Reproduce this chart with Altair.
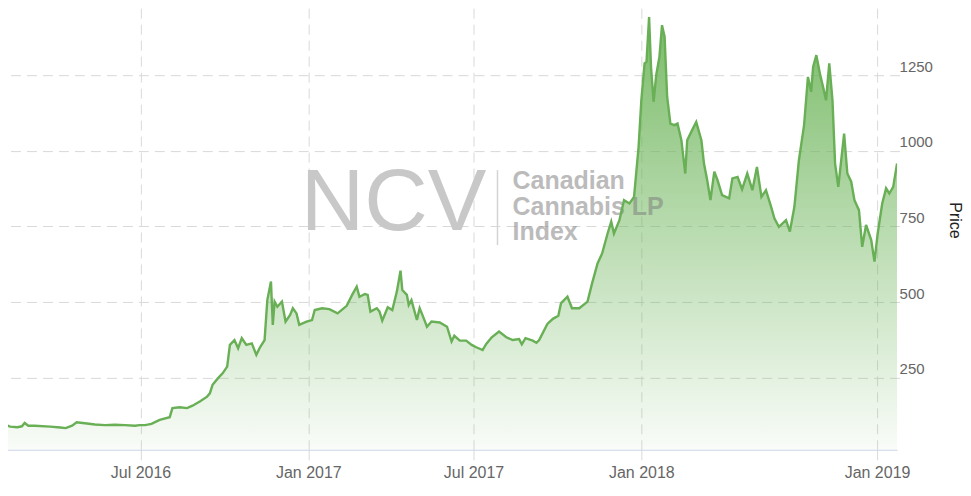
import altair as alt
import pandas as pd

dates = [
    "2016-02-04", "2016-02-09", "2016-02-17", "2016-02-22", "2016-02-25", "2016-02-29",
    "2016-03-07", "2016-03-24", "2016-04-04", "2016-04-10", "2016-04-17", "2016-04-22",
    "2016-05-01", "2016-05-12", "2016-05-23", "2016-06-03", "2016-06-14", "2016-06-25",
    "2016-06-30", "2016-07-06", "2016-07-13", "2016-07-22", "2016-08-02", "2016-08-05",
    "2016-08-13", "2016-08-21", "2016-08-27", "2016-09-04", "2016-09-12", "2016-09-15",
    "2016-09-18", "2016-09-24", "2016-09-29", "2016-10-04", "2016-10-07", "2016-10-12",
    "2016-10-16", "2016-10-20", "2016-10-25", "2016-10-31", "2016-11-05", "2016-11-09",
    "2016-11-14", "2016-11-17", "2016-11-21", "2016-11-23", "2016-11-25", "2016-11-28",
    "2016-12-03", "2016-12-07", "2016-12-12", "2016-12-15", "2016-12-19", "2016-12-22",
    "2016-12-30", "2017-01-05", "2017-01-08", "2017-01-16", "2017-01-24", "2017-02-02",
    "2017-02-12", "2017-02-18", "2017-02-23", "2017-02-26", "2017-03-04", "2017-03-07",
    "2017-03-10", "2017-03-17", "2017-03-20", "2017-03-23", "2017-03-29", "2017-04-03",
    "2017-04-08", "2017-04-12", "2017-04-14", "2017-04-19", "2017-04-21", "2017-04-24",
    "2017-04-30", "2017-05-03", "2017-05-06", "2017-05-11", "2017-05-16", "2017-05-25",
    "2017-06-02", "2017-06-07", "2017-06-10", "2017-06-16", "2017-06-23", "2017-06-29",
    "2017-07-04", "2017-07-11", "2017-07-15", "2017-07-21", "2017-07-29", "2017-08-06",
    "2017-08-13", "2017-08-20", "2017-08-23", "2017-08-27", "2017-09-04", "2017-09-08",
    "2017-09-11", "2017-09-20", "2017-09-26", "2017-10-02", "2017-10-05", "2017-10-12",
    "2017-10-17", "2017-10-25", "2017-11-03", "2017-11-08", "2017-11-14", "2017-11-19",
    "2017-11-25", "2017-11-29", "2017-12-02", "2017-12-08", "2017-12-13", "2017-12-19",
    "2017-12-24", "2017-12-29", "2018-01-01", "2018-01-06", "2018-01-09", "2018-01-13",
    "2018-01-16", "2018-01-20", "2018-01-24", "2018-01-29", "2018-02-02", "2018-02-06",
    "2018-02-10", "2018-02-15", "2018-02-21", "2018-02-26", "2018-03-04", "2018-03-10",
    "2018-03-13", "2018-03-21", "2018-03-27", "2018-04-04", "2018-04-08", "2018-04-13",
    "2018-04-18", "2018-04-24", "2018-04-29", "2018-05-06", "2018-05-17", "2018-05-22",
    "2018-05-30", "2018-06-06", "2018-06-14", "2018-06-22", "2018-06-29", "2018-07-06",
    "2018-07-13", "2018-07-21", "2018-07-26", "2018-08-02", "2018-08-13", "2018-08-19",
    "2018-08-26", "2018-09-02", "2018-09-10", "2018-09-16", "2018-09-21", "2018-09-24",
    "2018-09-29", "2018-10-05", "2018-10-10", "2018-10-14", "2018-10-19", "2018-10-24",
    "2018-10-28", "2018-11-02", "2018-11-11", "2018-11-16", "2018-11-22", "2018-11-27",
    "2018-12-04", "2018-12-09", "2018-12-15", "2018-12-23", "2018-12-28", "2019-01-02",
    "2019-01-09", "2019-01-15", "2019-01-20", "2019-01-26", "2019-02-01",
]

prices = [
    95, 89, 87, 90, 101, 92,
    92, 89, 86, 84, 92, 103,
    100, 96, 94, 95, 94, 92,
    94, 94, 98, 111, 120, 150,
    153, 150, 158, 172, 188, 199,
    227, 249, 265, 287, 359, 375,
    348, 381, 359, 364, 326, 351,
    375, 507, 568, 425, 502, 485,
    502, 436, 458, 480, 463, 425,
    436, 441, 474, 480, 477, 463,
    488, 524, 551, 518, 527, 524,
    469, 480, 469, 439, 483, 474,
    535, 604, 540, 524, 491, 507,
    441, 480, 458, 419, 436, 433,
    419, 370, 389, 373, 373, 359,
    351, 342, 362, 384, 403, 384,
    375, 378, 361, 381, 373, 366,
    375, 428, 445, 455, 497, 518,
    480, 480, 502, 562, 628, 661,
    727, 766, 727, 771, 837, 826,
    848, 1013, 1167, 1289, 1294, 1442,
    1277, 1162, 1250, 1310, 1415, 1377,
    1178, 1090, 1085, 1090, 1035, 925,
    1035, 1070, 1095, 1035, 958, 903,
    837, 931, 903, 854, 843, 909,
    914, 873, 925, 870, 947, 848,
    870, 815, 777, 749, 771, 733,
    815, 969, 1085, 1244, 1195, 1277,
    1316, 1250, 1206, 1167, 1289, 1167,
    958, 881, 1057, 925, 898, 837,
    804, 683, 755, 705, 634, 727,
    826, 876, 859, 881, 958,
]

y_ticks = [250, 500, 750, 1000, 1250]
x_tick_dates = ["2016-07-01", "2017-01-01", "2017-07-01", "2018-01-01", "2019-01-01"]
# ordinal-like axis: the 2018 stretch is compressed relative to earlier years
x_breaks = ["2016-02-04", "2018-01-01", "2019-02-01"]
watermark_big = "NCV"
watermark_lines = ["Canadian", "Cannabis LP", "Index"]

df = pd.DataFrame({"date": dates, "price": prices})


def ms(s):
    return int(pd.Timestamp(s, tz="UTC").value // 10**6)


FONT = "Liberation Sans"
GRID = "#d9d9d9"

x_scale = alt.Scale(
    type="linear",
    domain=[ms(s) for s in x_breaks],
    range=[-2.5, 634, 890],
    nice=False,
    zero=False,
)

x_enc = alt.X(
    "t:Q",
    scale=x_scale,
    axis=alt.Axis(
        values=[ms(s) for s in x_tick_dates],
        labelExpr="utcFormat(datum.value, '%b %Y')",
        title=None,
        labelFont=FONT,
        labelFontSize=16,
        labelColor="#666666",
        labelPadding=3,
        labelFlush=False,
        labelOverlap=False,
        tickSize=12,
        tickColor=GRID,
        tickDash=[10, 6],
        grid=True,
        gridColor=GRID,
        gridDash=[10, 6],
        domainColor="#ccd6eb",
        domainWidth=1,
    ),
)

y_enc = alt.Y(
    "price:Q",
    scale=alt.Scale(domain=[12.4, 1471], zero=False, nice=False),
    axis=alt.Axis(
        orient="right",
        values=y_ticks,
        format="d",
        title="Price",
        titleFont=FONT,
        titleFontSize=16,
        titleFontWeight="normal",
        titleColor="#222222",
        titleAngle=90,
        titlePadding=14,
        titleY=212,
        labelFont=FONT,
        labelFontSize=15,
        labelColor="#666666",
        labelAlign="left",
        labelBaseline="alphabetic",
        labelOffset=-4,
        labelPadding=2,
        ticks=False,
        tickSize=0,
        domain=False,
        grid=True,
        gridColor=GRID,
        gridDash=[10, 6],
    ),
)

base = (
    alt.Chart(df)
    .transform_calculate(t="time(toDate(datum.date))")
    .encode(x=x_enc, y=y_enc)
)

area = base.mark_area(
    clip=True,
    line=False,
    color=alt.Gradient(
        gradient="linear",
        stops=[
            alt.GradientStop(color="rgba(104,178,84,0.88)", offset=0),
            alt.GradientStop(color="rgba(104,178,84,0.03)", offset=1),
        ],
        x1=1, x2=1, y1=0, y2=1,
    ),
)

line = base.mark_line(clip=True, color="#68af55", strokeWidth=2.4)

one = pd.DataFrame({"k": [0]})

ncv = alt.Chart(one).mark_text(
    text=watermark_big,
    font=FONT,
    fontSize=88,
    color="#c8c8c8",
    align="left",
    baseline="alphabetic",
).encode(x=alt.value(293), y=alt.value(222))

sep = alt.Chart(one).mark_rule(color="#d4d4d4", strokeWidth=1.5).encode(
    x=alt.value(490), y=alt.value(162), y2=alt.value(237)
)

sub = alt.Chart(one).mark_text(
    text=watermark_lines,
    font=FONT,
    fontSize=25,
    fontWeight="bold",
    color="#7a7a7a",
    opacity=0.5,
    align="left",
    baseline="alphabetic",
    lineHeight=25.5,
).encode(x=alt.value(505), y=alt.value(181))

chart = (
    alt.layer(area, ncv, sep, sub, line)
    .properties(
        width=890,
        height=442,
        padding={"left": 0, "top": 0, "right": 0, "bottom": 0},
        background="white",
    )
    .configure_view(strokeWidth=0)
)

chart.save("out.html", embed_options={"renderer": "svg", "actions": False})
